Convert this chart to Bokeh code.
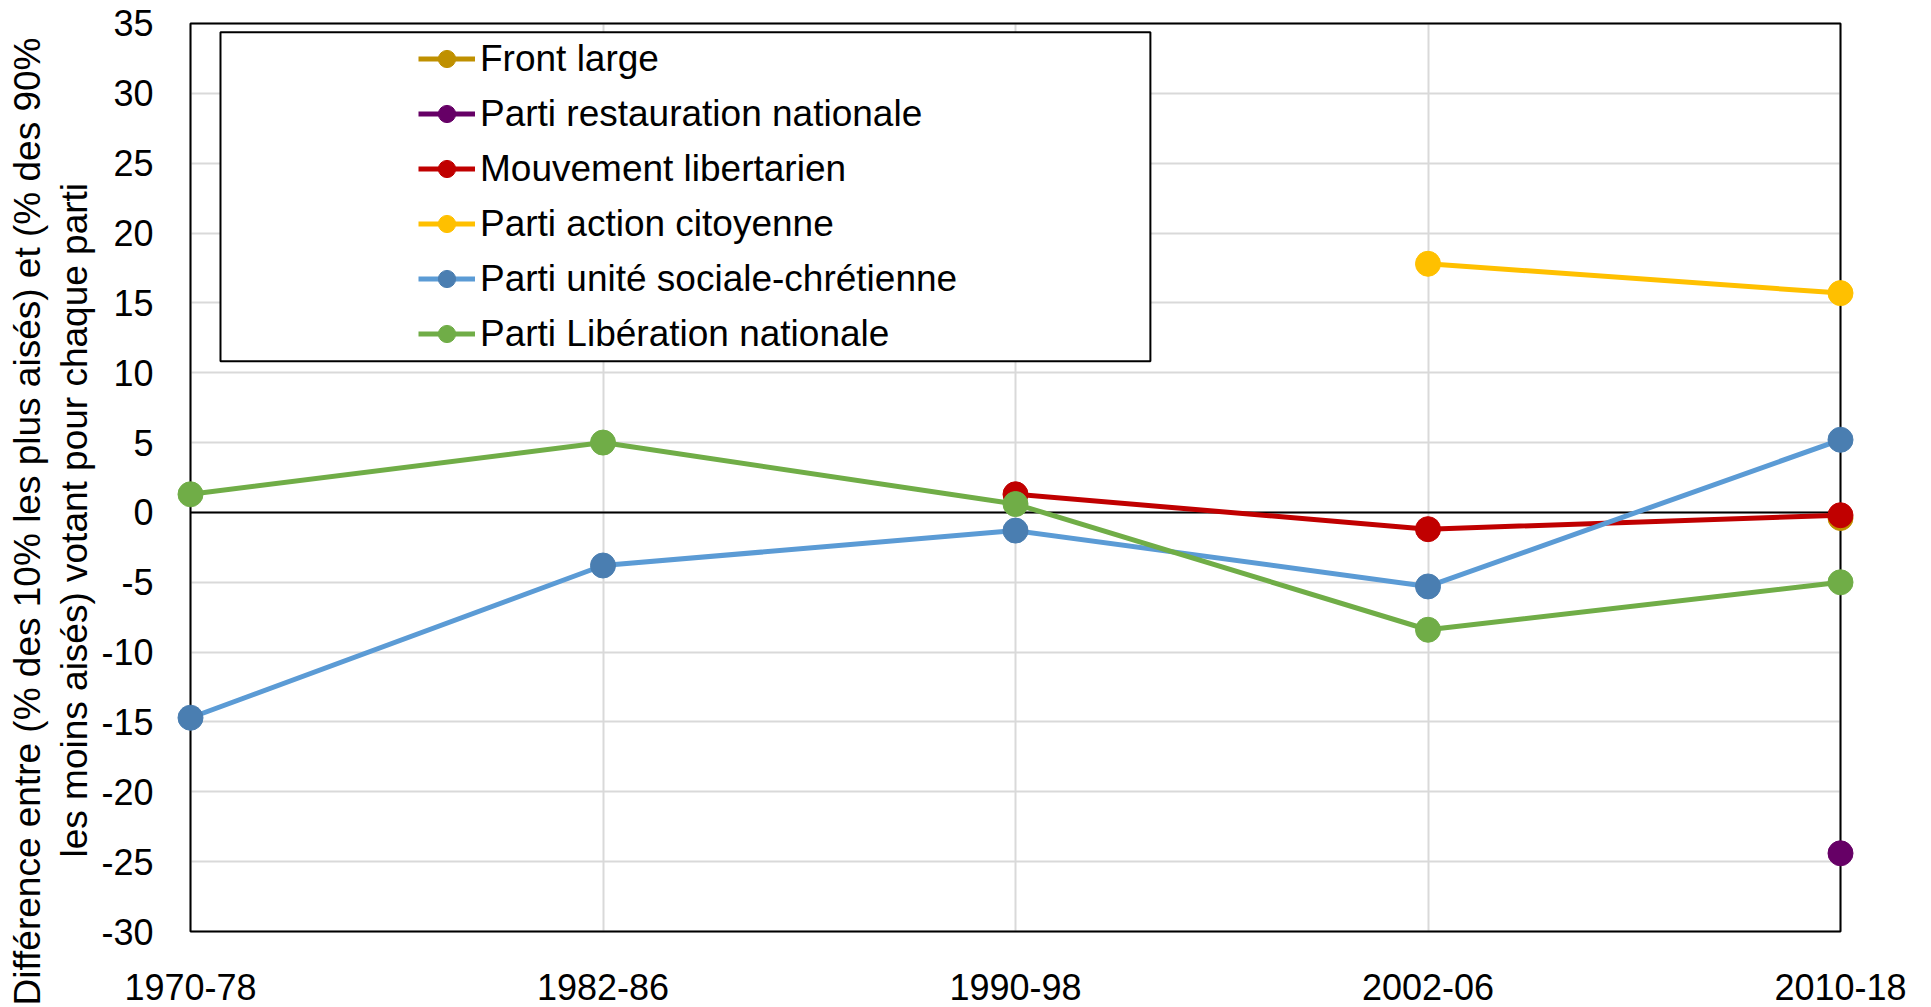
import numpy as np
from bokeh.plotting import figure
from bokeh.models import (Range1d, FixedTicker, Grid, BoxAnnotation, Title,
                          Legend, LegendItem)
from bokeh.embed import file_html
from bokeh.resources import INLINE

# ---------------- data ----------------
periods = ["1970-78", "1982-86", "1990-98", "2002-06", "2010-18"]
front_large = [None, None, None, None, -0.4]
restauration_nationale = [None, None, None, None, -24.4]
mouvement_libertarien = [None, None, 1.3, -1.2, -0.2]
action_citoyenne = [None, None, None, 17.8, 15.7]
unite_sociale_chretienne = [-14.7, -3.8, -1.3, -5.3, 5.2]
liberation_nationale = [1.3, 5.0, 0.6, -8.4, -5.0]
y_ticks = list(range(-30, 40, 5))
y_title_1 = "Différence entre (% des 10% les plus aisés) et (% des 90%"
y_title_2 = "les moins aisés) votant pour chaque parti"

series = [
    ("Front large", front_large, "#BF9000", "#BF9000"),
    ("Parti restauration nationale", restauration_nationale, "#660066", "#660066"),
    ("Mouvement libertarien", mouvement_libertarien, "#C00000", "#C00000"),
    ("Parti action citoyenne", action_citoyenne, "#FFC000", "#FFC000"),
    ("Parti unité sociale-chrétienne", unite_sociale_chretienne, "#5B9BD5", "#4A7EB1"),
    ("Parti Libération nationale", liberation_nationale, "#70AD47", "#70AD47"),
]

FONT = "Liberation Sans"
x = list(range(len(periods)))
ymin, ymax = y_ticks[0], y_ticks[-1]
pad_x = 15 / 412.5
pad_y = 2 / 13.97

p = figure(frame_width=1680, frame_height=912,
           min_border_left=175, min_border_right=68,
           min_border_top=21, min_border_bottom=74,
           x_range=Range1d(x[0] - pad_x, x[-1] + pad_x),
           y_range=Range1d(ymin - pad_y, ymax + pad_y),
           output_backend="svg", toolbar_location=None)
p.outline_line_color = None
p.background_fill_color = "white"
p.border_fill_color = "white"

has_cross = "cross_bounds" in Grid.properties()

p.xgrid.ticker = FixedTicker(ticks=x)
p.ygrid.ticker = FixedTicker(ticks=y_ticks)
for g in (p.xgrid, p.ygrid):
    g.grid_line_color = "#D9D9D9"
    g.grid_line_width = 2
if has_cross:
    p.xgrid.cross_bounds = (ymin, ymax)
    p.ygrid.cross_bounds = (x[0], x[-1])

zero = Grid(dimension=1, ticker=FixedTicker(ticks=[0]),
            grid_line_color="black", grid_line_width=2)
if has_cross:
    zero.cross_bounds = (x[0], x[-1])
p.add_layout(zero)

border = BoxAnnotation(left=x[0], right=x[-1], bottom=ymin, top=ymax,
                       fill_color=None, fill_alpha=0, line_color="black",
                       line_alpha=1, line_dash="solid",
                       line_width=2, level="underlay")
p.add_layout(border)

# axes
p.xaxis.ticker = FixedTicker(ticks=x)
p.xaxis.major_label_overrides = {i: s for i, s in enumerate(periods)}
p.yaxis.ticker = FixedTicker(ticks=y_ticks)
p.yaxis.major_label_overrides = {t: str(t) for t in y_ticks}
for ax in (p.xaxis, p.yaxis):
    ax.axis_line_color = None
    ax.major_tick_line_color = None
    ax.minor_tick_line_color = None
    ax.major_label_text_font = FONT
    ax.major_label_text_font_size = "36px"
    ax.major_label_text_color = "black"
    ax.major_label_text_line_height = 1.0
p.xaxis.major_label_standoff = 34
p.yaxis.major_label_standoff = 16

# data
items = []
for name, vals, lc, mc in series:
    y = [np.nan if v is None else v for v in vals]
    r1 = p.line(x, y, line_color=lc, line_width=5)
    r2 = p.scatter(x, y, size=25, fill_color=mc, line_color=mc)
    items.append(LegendItem(label=name, renderers=[r1, r2]))

# legend frame
legend_box = BoxAnnotation(left=0.0727, right=2.327, bottom=10.83, top=34.38,
                           fill_color="white", fill_alpha=1,
                           line_color="black", line_alpha=1, line_dash="solid",
                           line_width=2)
p.add_layout(legend_box)

legend = Legend(items=items, location=(243, 578),
                label_text_font=FONT, label_text_font_size="37px",
                label_text_color="black", label_text_line_height=1.0,
                glyph_width=57, glyph_height=43, label_height=43,
                spacing=12, label_standoff=5, padding=0, margin=0,
                border_line_color=None, background_fill_alpha=0)
p.add_layout(legend)

# y axis title (two lines, stacked outward from the axis)
t2 = Title(text=y_title_2, align="left", offset=76, standoff=8,
           text_font=FONT, text_font_size="37px", text_font_style="normal",
           text_color="black")
t1 = Title(text=y_title_1, align="left", offset=-72, standoff=0,
           text_font=FONT, text_font_size="37px", text_font_style="normal",
           text_color="black")
p.add_layout(t2, "left")
p.add_layout(t1, "left")

open("out.html", "w").write(file_html(p, INLINE))
